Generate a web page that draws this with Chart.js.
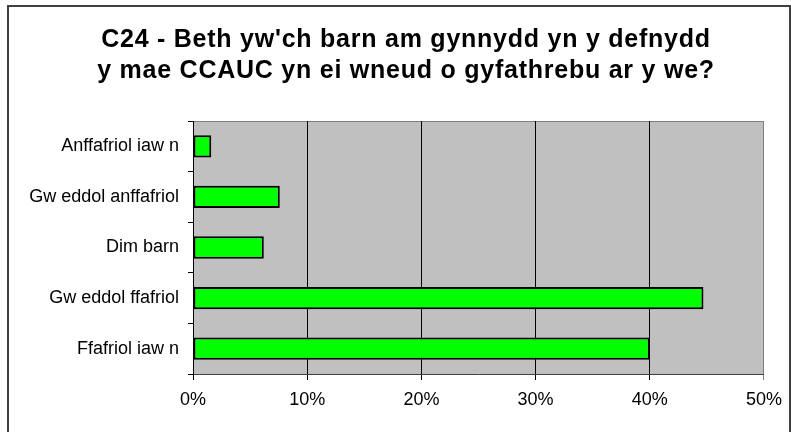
<!DOCTYPE html>
<html lang="cy">
<head>
    <meta charset="UTF-8">
    <title>C24 Bar Chart</title>
    <script src="https://cdn.jsdelivr.net/npm/chart.js"></script>
    <style>
        body { margin: 0; background: #fff; }
        #c24Chart { display: block; }
    </style>
</head>
<body>
    <canvas id="c24Chart" width="791" height="432"></canvas>
    <script>
        // data
        const categories = ['Anffafriol iaw n', 'Gw eddol anffafriol', 'Dim barn', 'Gw eddol ffafriol', 'Ffafriol iaw n'];
        const values = [1.6, 7.6, 6.2, 44.7, 40.0];
        const xTicks = [0, 10, 20, 30, 40, 50];
        const titleLines = ["C24 - Beth yw'ch barn am gynnydd yn y defnydd", 'y mae CCAUC yn ei wneud o gyfathrebu ar y we?'];

        const FONT = 'Liberation Sans, Arial, sans-serif';

        // grey plot area, outer frame and the two-line title
        const backdrop = {
            id: 'backdrop',
            beforeDraw(chart) {
                const c = chart.ctx;
                const a = chart.chartArea;
                c.save();
                c.fillStyle = '#fff';
                c.fillRect(0, 0, chart.width, chart.height);
                c.strokeStyle = '#404040';
                c.lineWidth = 2;
                c.strokeRect(8, 6, 782, 440);
                c.fillStyle = '#C0C0C0';
                c.fillRect(a.left, a.top, a.right - a.left, a.bottom - a.top);
                c.strokeStyle = '#808080';
                c.lineWidth = 1;
                c.beginPath();
                c.moveTo(a.left, a.top + 0.5);
                c.lineTo(a.right, a.top + 0.5);
                c.stroke();
                c.restore();
            },
            afterDraw(chart) {
                const c = chart.ctx;
                c.save();
                c.fillStyle = '#000';
                c.font = 'bold 25px ' + FONT;
                c.textAlign = 'center';
                c.textBaseline = 'alphabetic';
                // stretch the first line to the reference width, reuse spacing for line 2
                c.letterSpacing = '0px';
                const w = c.measureText(titleLines[0]).width;
                const sp = (609 - w) / (titleLines[0].length - 1);
                c.letterSpacing = sp.toFixed(2) + 'px';
                c.fillText(titleLines[0], 406, 47);
                c.fillText(titleLines[1], 406, 78);
                c.restore();
            }
        };

        const config = {
            type: 'bar',
            data: {
                labels: categories,
                datasets: [{
                    data: values,
                    backgroundColor: '#00FF00',
                    borderColor: '#000',
                    borderWidth: 2,
                    borderSkipped: false,
                    barPercentage: 0.44,
                    categoryPercentage: 1.0
                }]
            },
            options: {
                indexAxis: 'y',
                responsive: false,
                animation: false,
                layout: { padding: { left: 10, right: 23, top: 121, bottom: 0 } },
                plugins: {
                    legend: { display: false },
                    tooltip: { enabled: false },
                    title: { display: false }
                },
                scales: {
                    x: {
                        min: 0,
                        max: 50,
                        afterBuildTicks(scale) {
                            scale.ticks = xTicks.map(v => ({ value: v }));
                        },
                        afterFit(scale) { scale.height = 58; },
                        ticks: {
                            color: '#000',
                            padding: 9,
                            font: { family: FONT, size: 18 },
                            callback: v => v + '%'
                        },
                        grid: {
                            color: ctx => (ctx.tick && ctx.tick.value === 50) ? '#808080' : '#000',
                            lineWidth: 1,
                            tickLength: 6
                        },
                        border: { color: '#404040', width: 1 }
                    },
                    y: {
                        afterFit(scale) { scale.width = 193 - 10; },
                        ticks: {
                            color: '#000',
                            padding: 9,
                            font: { family: FONT, size: 18 }
                        },
                        grid: {
                            drawOnChartArea: false,
                            color: '#000',
                            tickLength: 5
                        },
                        border: { color: '#000', width: 1 }
                    }
                }
            },
            plugins: [backdrop]
        };

        const ctx = document.getElementById('c24Chart').getContext('2d');
        const c24Chart = new Chart(ctx, config);
    </script>
</body>
</html>
